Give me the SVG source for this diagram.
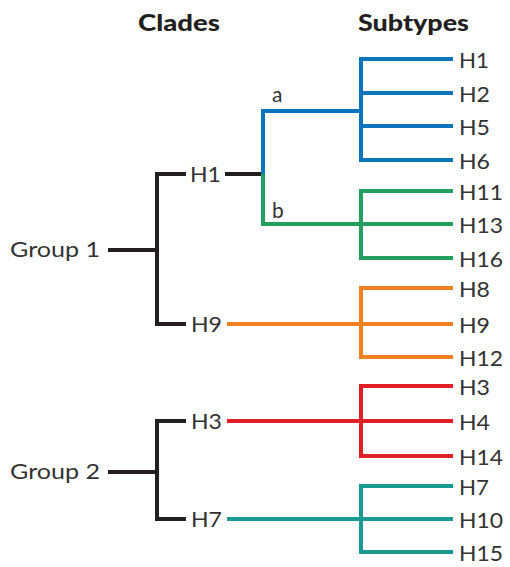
<svg xmlns="http://www.w3.org/2000/svg" width="510" height="567" viewBox="0 0 510 567">
<style>
text{font-family:Lato,"Open Sans","Liberation Sans",sans-serif;fill:#333333}
.hd{font-size:23px;font-weight:900;fill:#231f20}
.lf{font-size:21.5px}
.cl{font-size:21.5px}
.gp{font-size:21.5px}
.sm{font-size:21px}
path{fill:none;stroke-width:4;stroke-linecap:butt;stroke-linejoin:miter}
.k{stroke:#231f20}.bl{stroke:#0b74ba}.gr{stroke:#23a060}.or{stroke:#ef8122}.rd{stroke:#e01f26}.tl{stroke:#1a9a95}
</style>
<g id="headers">
<text class="hd" x="138" y="31" textLength="82" lengthAdjust="spacingAndGlyphs">Clades</text>
<text class="hd" x="358" y="31" textLength="111" lengthAdjust="spacingAndGlyphs">Subtypes</text>
</g>
<g id="connectors">
<path class="k" d="M108,250 H157"/>
<path class="k" d="M186,174 H157 V324 H186"/>
<path class="k" d="M225,174 H263"/>
<path class="bl" d="M263,174 V111 H361"/>
<path class="bl" d="M453,59 H361 V160 H453"/>
<path class="bl" d="M361,93 H453 M361,126 H453"/>
<path class="gr" d="M263,174 V224 H361"/>
<path class="gr" d="M453,191 H361 V258 H453"/>
<path class="gr" d="M361,224 H453"/>
<path class="or" d="M227,324 H453"/>
<path class="or" d="M453,288 H361 V357 H453"/>
<path class="k" d="M108,472 H157"/>
<path class="k" d="M186,421 H157 V519 H186"/>
<path class="rd" d="M227,421 H453"/>
<path class="rd" d="M453,386 H361 V456 H453"/>
<path class="tl" d="M227,519 H453"/>
<path class="tl" d="M453,486 H361 V552 H453"/>
</g>
<g id="group1"><text class="gp" x="10" y="257" textLength="90" lengthAdjust="spacingAndGlyphs">Group 1</text></g>
<g id="group2"><text class="gp" x="10" y="479" textLength="90" lengthAdjust="spacingAndGlyphs">Group 2</text></g>
<g id="clade-H1"><text class="cl" x="190" y="181.5" textLength="31" lengthAdjust="spacingAndGlyphs">H1</text></g>
<g id="clade-H9"><text class="cl" x="191" y="331.5" textLength="31" lengthAdjust="spacingAndGlyphs">H9</text></g>
<g id="clade-H3"><text class="cl" x="191" y="428.5" textLength="31" lengthAdjust="spacingAndGlyphs">H3</text></g>
<g id="clade-H7"><text class="cl" x="191" y="526.5" textLength="31" lengthAdjust="spacingAndGlyphs">H7</text></g>
<g id="label-a"><text class="sm" x="272" y="102">a</text></g>
<g id="label-b"><text class="sm" x="272" y="218">b</text></g>
<g id="sub-H1"><text class="lf" x="459" y="67.5" textLength="30" lengthAdjust="spacingAndGlyphs">H1</text></g>
<g id="sub-H2"><text class="lf" x="459" y="101.5" textLength="31" lengthAdjust="spacingAndGlyphs">H2</text></g>
<g id="sub-H5"><text class="lf" x="459" y="134.5" textLength="31" lengthAdjust="spacingAndGlyphs">H5</text></g>
<g id="sub-H6"><text class="lf" x="459" y="168.5" textLength="31" lengthAdjust="spacingAndGlyphs">H6</text></g>
<g id="sub-H11"><text class="lf" x="459" y="199.5" textLength="44" lengthAdjust="spacingAndGlyphs">H11</text></g>
<g id="sub-H13"><text class="lf" x="459" y="232.5" textLength="44" lengthAdjust="spacingAndGlyphs">H13</text></g>
<g id="sub-H16"><text class="lf" x="459" y="266.5" textLength="44" lengthAdjust="spacingAndGlyphs">H16</text></g>
<g id="sub-H8"><text class="lf" x="459" y="296.5" textLength="31" lengthAdjust="spacingAndGlyphs">H8</text></g>
<g id="sub-H9"><text class="lf" x="459" y="332.5" textLength="31" lengthAdjust="spacingAndGlyphs">H9</text></g>
<g id="sub-H12"><text class="lf" x="459" y="365.5" textLength="44" lengthAdjust="spacingAndGlyphs">H12</text></g>
<g id="sub-H3"><text class="lf" x="459" y="394.5" textLength="31" lengthAdjust="spacingAndGlyphs">H3</text></g>
<g id="sub-H4"><text class="lf" x="459" y="429.5" textLength="31" lengthAdjust="spacingAndGlyphs">H4</text></g>
<g id="sub-H14"><text class="lf" x="459" y="464.5" textLength="44" lengthAdjust="spacingAndGlyphs">H14</text></g>
<g id="sub-H7"><text class="lf" x="459" y="494.5" textLength="30" lengthAdjust="spacingAndGlyphs">H7</text></g>
<g id="sub-H10"><text class="lf" x="459" y="527.5" textLength="44" lengthAdjust="spacingAndGlyphs">H10</text></g>
<g id="sub-H15"><text class="lf" x="459" y="560.5" textLength="44" lengthAdjust="spacingAndGlyphs">H15</text></g>
</svg>
